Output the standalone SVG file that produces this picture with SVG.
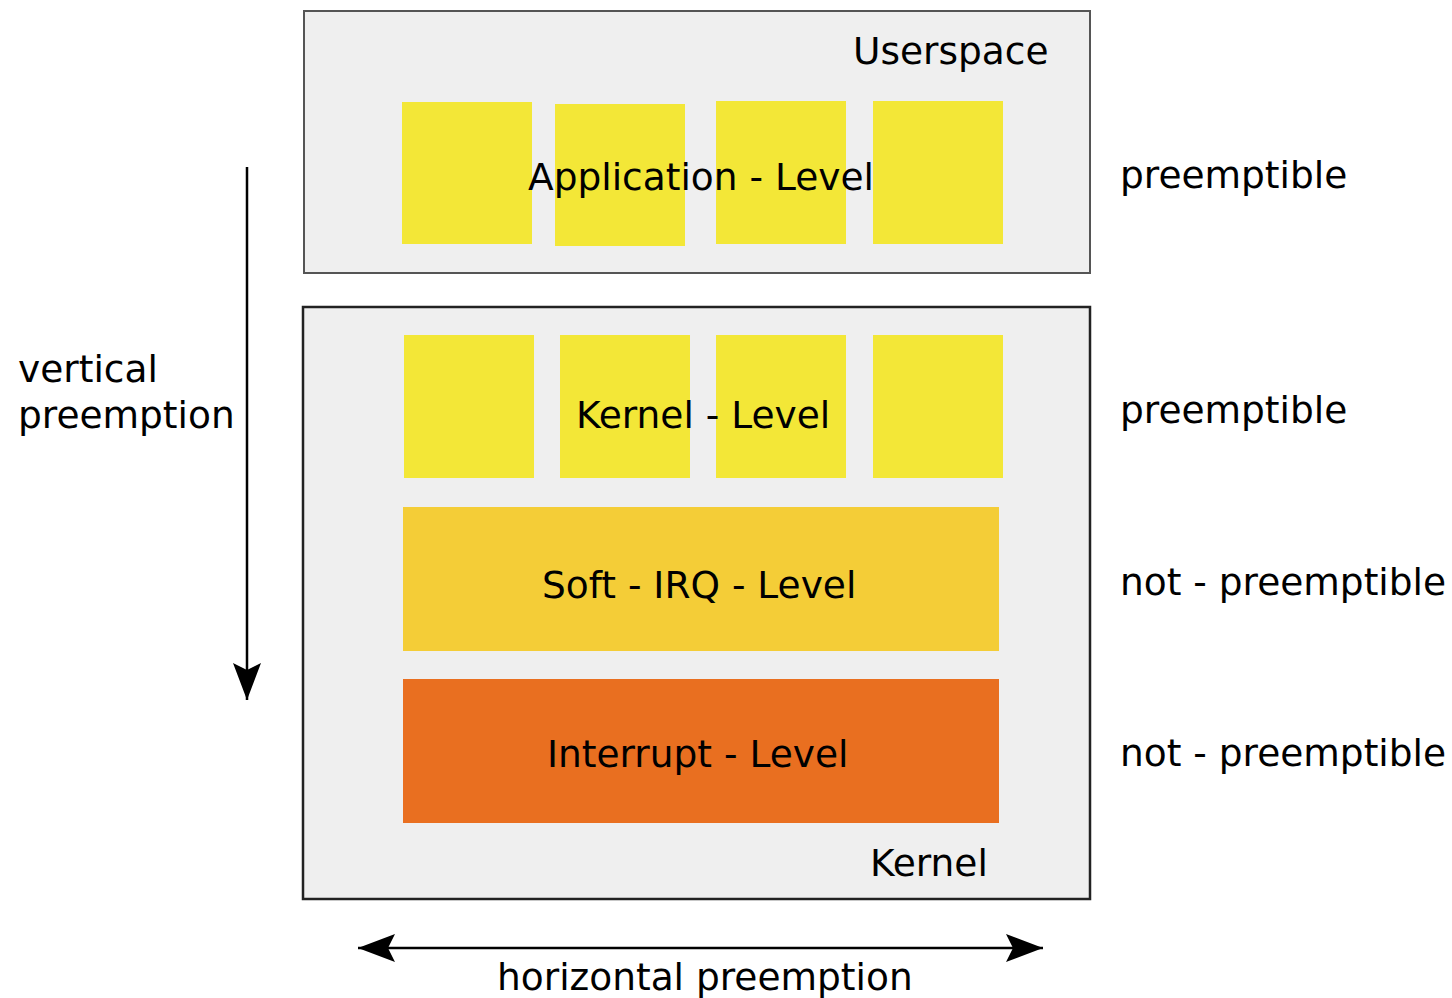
<svg xmlns="http://www.w3.org/2000/svg" width="1452" height="998" viewBox="0 0 1452 998">
  <style>
    text { font-family: "DejaVu Sans", "Liberation Sans", sans-serif; font-size: 37.5px; fill: #000; }
    .region { fill: #efefef; }
    .user { stroke: #555; stroke-width: 2; }
    .kern { stroke: #222; stroke-width: 2.5; }
    .task { fill: #f3e737; }
    .soft { fill: #f4cd37; }
    .irq { fill: #e96f20; }
    .conn { stroke: #000; stroke-width: 2.5; fill: none; }
    .head { fill: #000; }
  </style>
  <defs>
    <marker id="arrow" viewBox="-2 -16 42 32" refX="36" refY="0" markerWidth="42" markerHeight="32" markerUnits="userSpaceOnUse" orient="auto-start-reverse">
      <path class="head" d="M36,0 L-1,-14 L6,0 L-1,14 Z"/>
    </marker>
  </defs>

  <!-- user space layer -->
  <g id="userspace">
    <rect class="region user" x="304" y="11" width="786" height="262"/>
    <text x="853" y="64">Userspace</text>
  </g>
  <g id="application-level">
    <rect class="task" x="402" y="102" width="130" height="142"/>
    <rect class="task" x="555" y="104" width="130" height="142"/>
    <rect class="task" x="716" y="101" width="130" height="143"/>
    <rect class="task" x="873" y="101" width="130" height="143"/>
    <text x="528" y="190">Application - Level</text>
  </g>

  <!-- kernel layer -->
  <g id="kernel">
    <rect class="region kern" x="303" y="307" width="787" height="592"/>
    <text x="870" y="876">Kernel</text>
  </g>
  <g id="kernel-level">
    <rect class="task" x="404" y="335" width="130" height="143"/>
    <rect class="task" x="560" y="335" width="130" height="143"/>
    <rect class="task" x="716" y="335" width="130" height="143"/>
    <rect class="task" x="873" y="335" width="130" height="143"/>
    <text x="576" y="428">Kernel - Level</text>
  </g>
  <g id="softirq-level">
    <rect class="soft" x="403" y="507" width="596" height="144"/>
    <text x="542" y="598">Soft - IRQ - Level</text>
  </g>
  <g id="interrupt-level">
    <rect class="irq" x="403" y="679" width="596" height="144"/>
    <text x="547" y="767">Interrupt - Level</text>
  </g>

  <!-- preemption properties -->
  <g id="labels">
    <text x="1120" y="188">preemptible</text>
    <text x="1120" y="423">preemptible</text>
    <text x="1120" y="595">not - preemptible</text>
    <text x="1120" y="766">not - preemptible</text>
    <text x="18" y="382">vertical</text>
    <text x="18" y="428">preemption</text>
    <text x="497" y="990">horizontal preemption</text>
  </g>

  <!-- preemption directions -->
  <g id="connectors">
    <line class="conn" x1="247" y1="167" x2="247" y2="700" marker-end="url(#arrow)"/>
    <line class="conn" x1="358" y1="948" x2="1043" y2="948" marker-start="url(#arrow)" marker-end="url(#arrow)"/>
  </g>
</svg>
